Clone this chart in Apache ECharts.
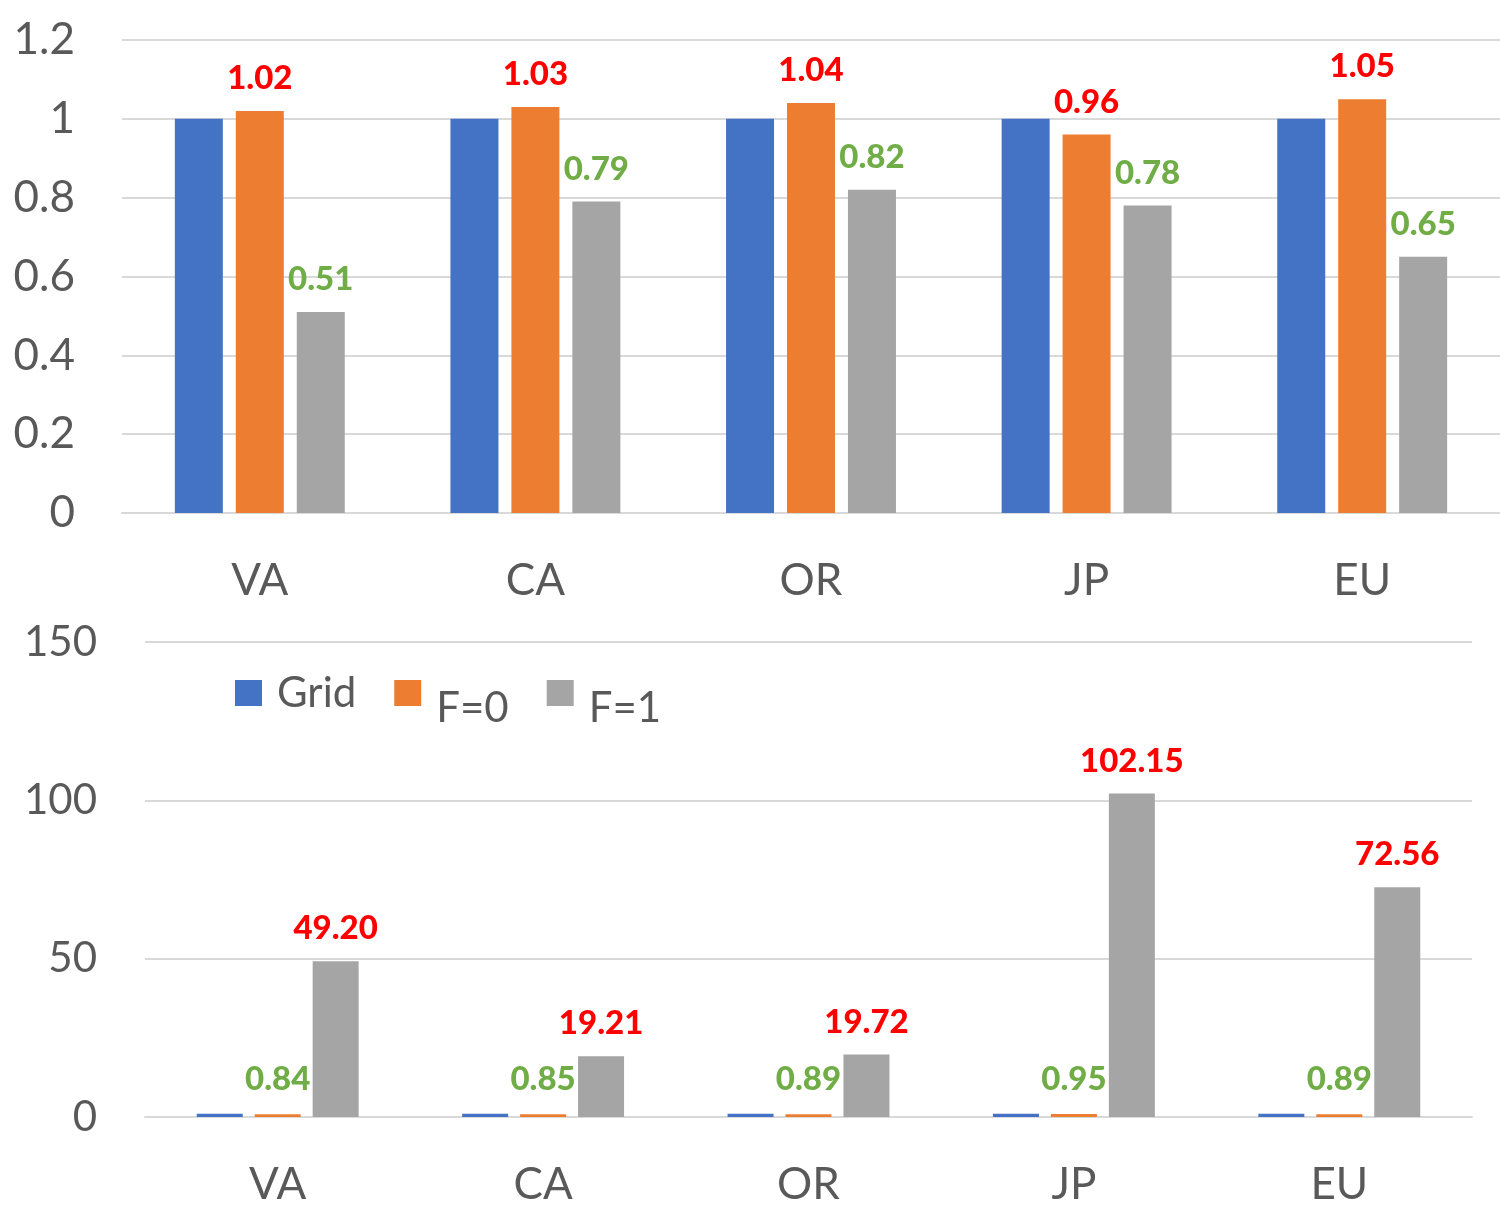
<!DOCTYPE html>
<html><head><meta charset="utf-8">
<script src="https://cdn.jsdelivr.net/npm/echarts@6/dist/echarts.min.js"></script>
<style>html,body{margin:0;padding:0;background:#fff}#c{width:1500px;height:1207px}</style>
</head><body><div id="c"></div>
<script>
const categories = ['VA','CA','OR','JP','EU'];
const seriesNames = ['Grid','F=0','F=1'];
// top chart
const topGrid = [1,1,1,1,1];
const topF0 = [1.02,1.03,1.04,0.96,1.05];
const topF1 = [0.51,0.79,0.82,0.78,0.65];
const topTicks = {min:0,max:1.2,interval:0.2};
// bottom chart
const botGrid = [1,1,1,1,1];
const botF0 = [0.84,0.85,0.89,0.95,0.89];
const botF1 = [49.20,19.21,19.72,102.15,72.56];
const botTicks = {min:0,max:150,interval:50};

const colors = ['#4472C4','#ED7D31','#A5A5A5'];
const FONT = 'Lato';
const axisText = '#595959';
const lineCol = '#D9D9D9';

function lbl(color, dist){
  return {show:true, position:'top', distance:dist, color:color, fontFamily:FONT, fontWeight:900, fontSize:33,
    formatter:p=>p.value.toFixed(2)};
}
function bar(name, data, xi, label, bw, gap){
  const s = {name:name, type:'bar', xAxisIndex:xi, yAxisIndex:xi, data:data, barWidth:bw, barGap:gap,
    itemStyle:{color:colors[seriesNames.indexOf(name)]}, animation:false};
  if(label) s.label = label;
  return s;
}
const chart = echarts.init(document.getElementById('c'));
chart.setOption({
  animation:false,
  backgroundColor:'#fff',
  grid:[
    {left:122, right:0, top:40, height:473, containLabel:false},
    {left:145, right:28, top:642, height:480, containLabel:false}
  ],
  legend:{
    left:235, top:672, padding:0, itemWidth:27, itemHeight:26, itemGap:38, icon:'rect',
    textStyle:{fontFamily:FONT, fontSize:42, color:axisText,
      rich:{
        a:{fontFamily:FONT, fontSize:42, color:axisText, padding:[0,0,0,10]},
        b:{fontFamily:FONT, fontSize:42, color:axisText, padding:[30,0,0,10]}
      }},
    formatter:name=> name==='Grid' ? '{a|'+name+'}' : '{b|'+name+'}',
    data:seriesNames
  },
  xAxis:[
    {type:'category', gridIndex:0, data:categories, axisTick:{show:false},
     axisLine:{lineStyle:{color:lineCol,width:2}},
     axisLabel:{fontFamily:FONT, fontSize:44, color:axisText, margin:46}},
    {type:'category', gridIndex:1, data:categories, axisTick:{show:false},
     axisLine:{lineStyle:{color:lineCol,width:2}},
     axisLabel:{fontFamily:FONT, fontSize:44, color:axisText, margin:46}}
  ],
  yAxis:[
    {type:'value', gridIndex:0, min:topTicks.min, max:topTicks.max, interval:topTicks.interval,
     axisLine:{show:false}, axisTick:{show:false},
     splitLine:{lineStyle:{color:lineCol,width:2}},
     axisLabel:{fontFamily:FONT, fontSize:44, color:axisText, margin:47}},
    {type:'value', gridIndex:1, min:botTicks.min, max:botTicks.max, interval:botTicks.interval,
     axisLine:{show:false}, axisTick:{show:false},
     splitLine:{lineStyle:{color:lineCol,width:2}},
     axisLabel:{fontFamily:FONT, fontSize:42, color:axisText, margin:48}}
  ],
  series:[
    bar('Grid', topGrid, 0, null, 48, '27%'),
    bar('F=0', topF0, 0, lbl('#FF0000',16), 48, '27%'),
    bar('F=1', topF1, 0, lbl('#70AD47',16), 48, '27%'),
    bar('Grid', botGrid, 1, null, 46, '26%'),
    bar('F=0', botF0, 1, lbl('#70AD47',18), 46, '26%'),
    bar('F=1', botF1, 1, lbl('#FF0000',16), 46, '26%')
  ]
});
</script></body></html>
